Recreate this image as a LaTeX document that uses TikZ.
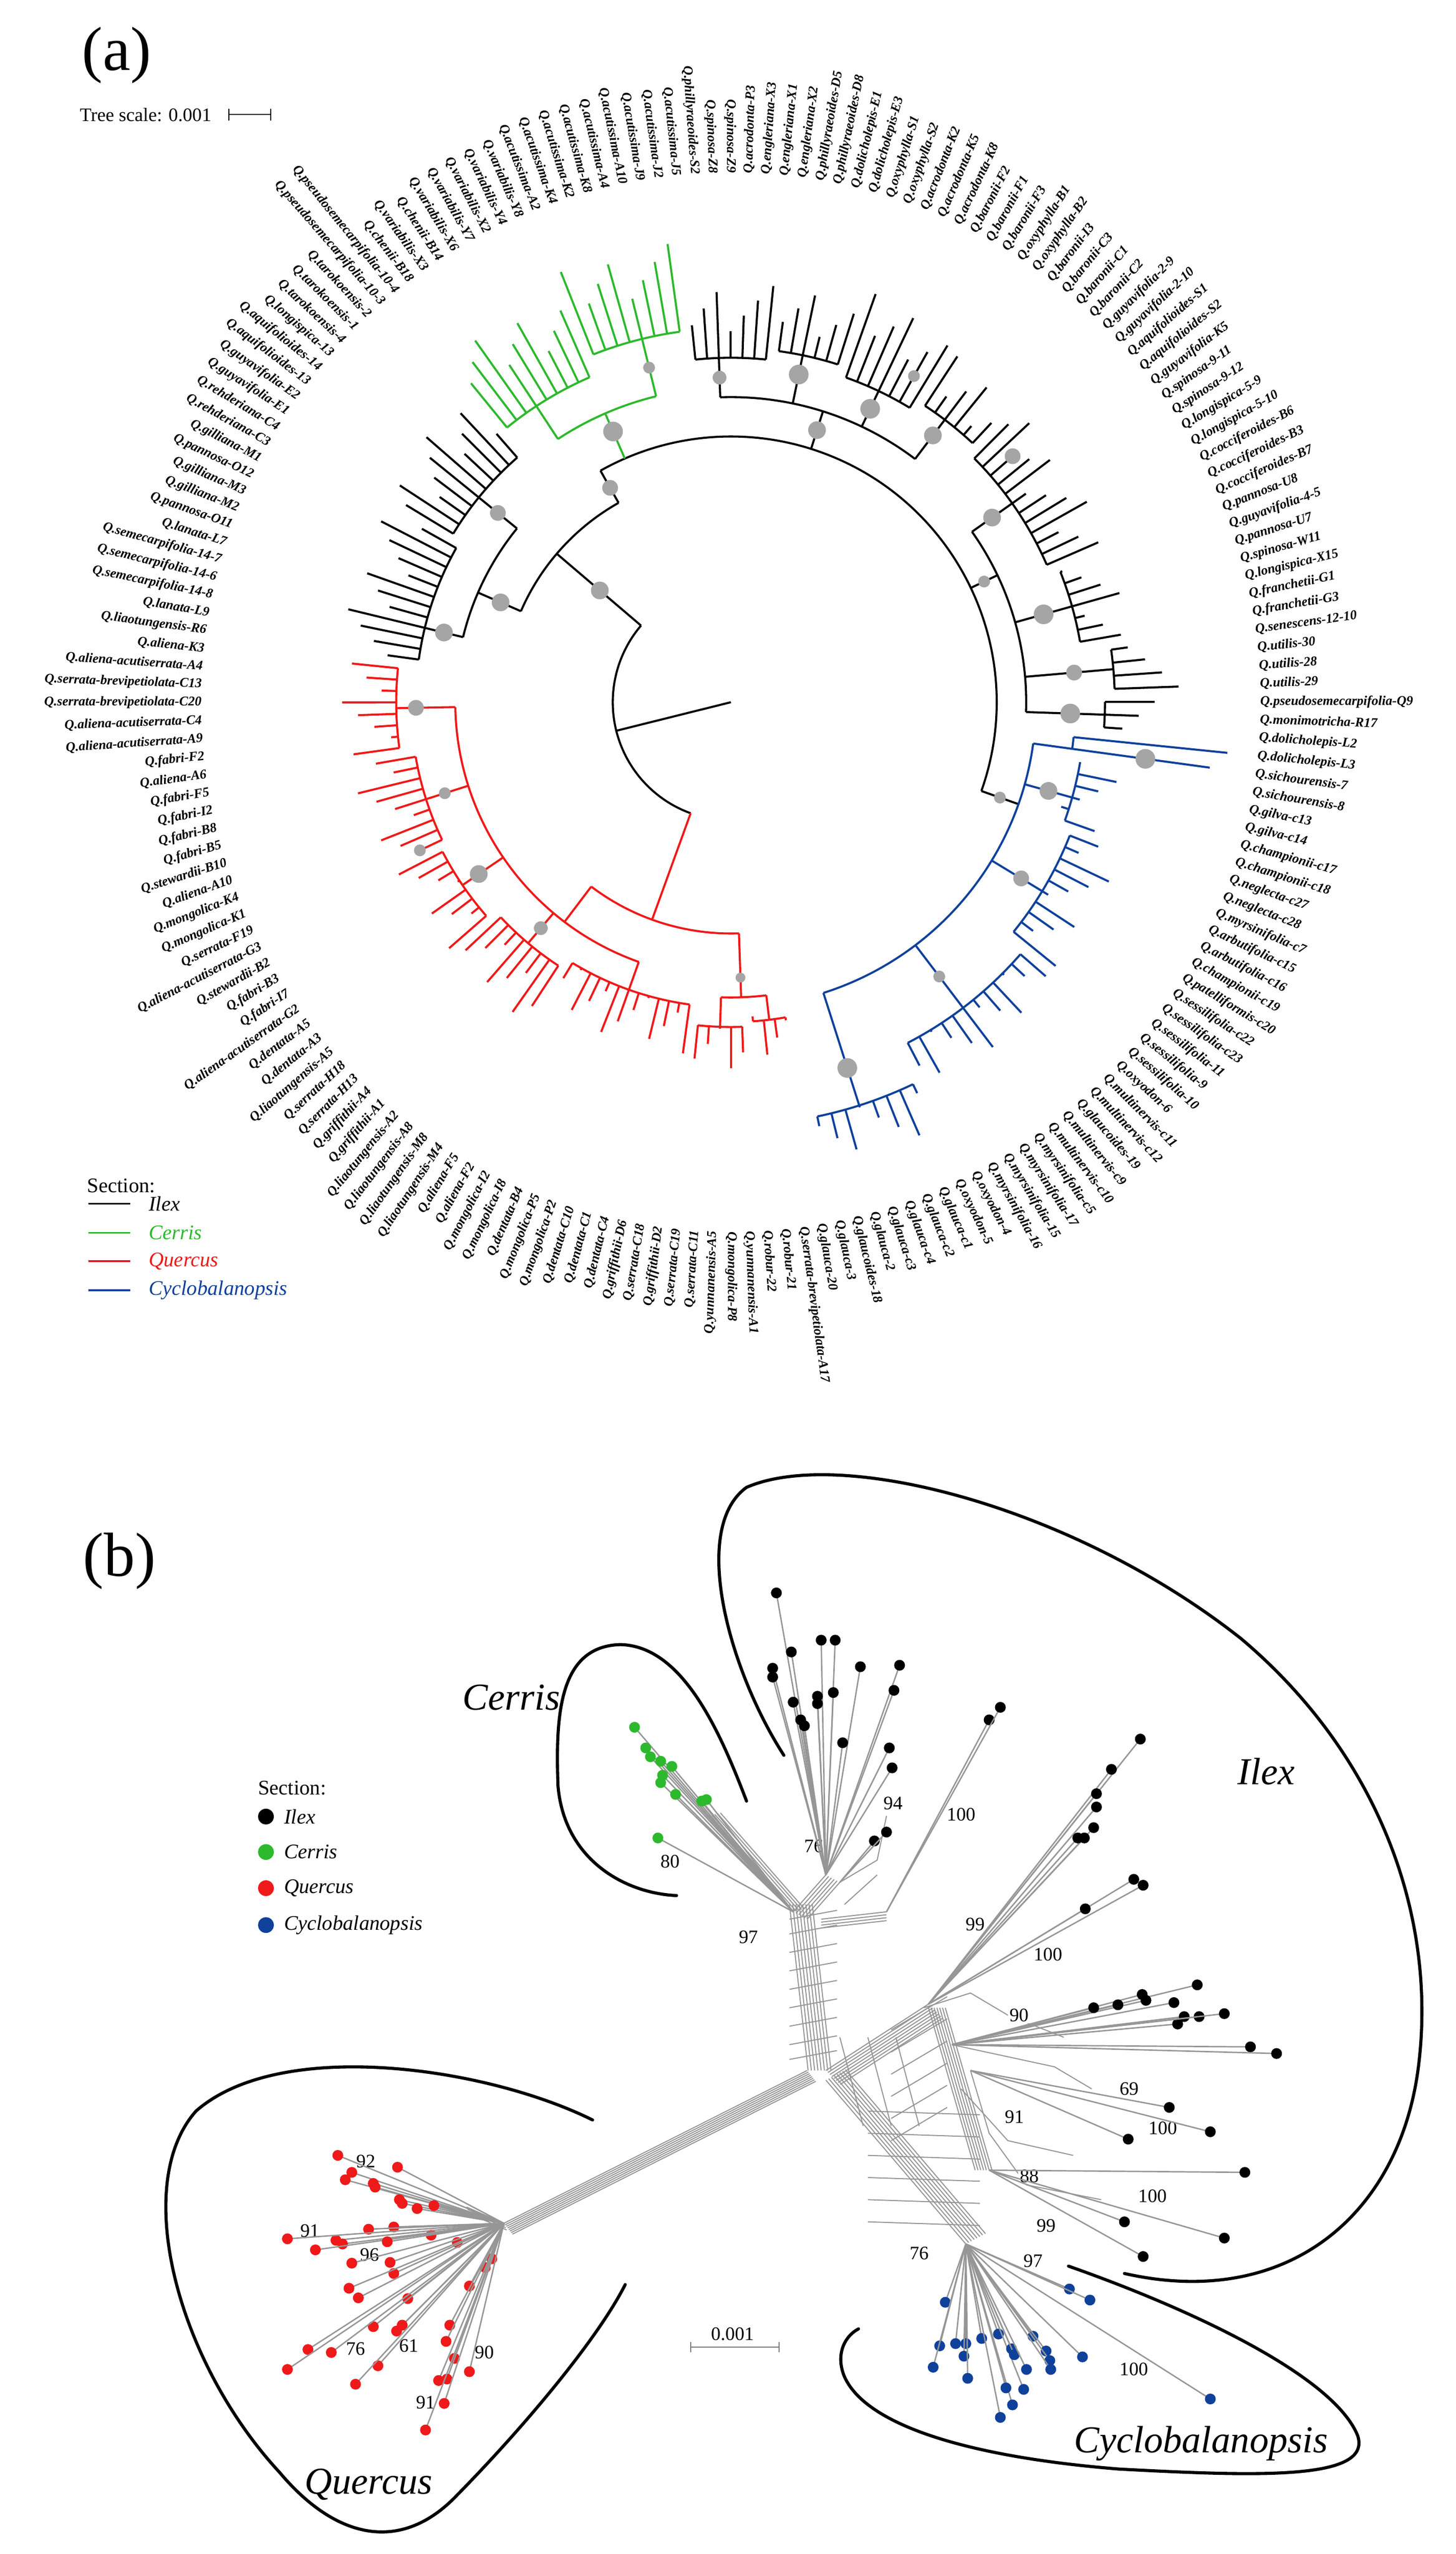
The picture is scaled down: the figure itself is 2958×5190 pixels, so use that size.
\documentclass[tikz,border=0pt]{standalone}
\usepackage{fontspec}
\setmainfont{Liberation Serif}
\definecolor{cg}{RGB}{45,185,45}
\definecolor{cr}{RGB}{240,25,25}
\definecolor{cb}{RGB}{15,65,155}
\definecolor{gd}{RGB}{165,165,165}
\definecolor{nt}{RGB}{150,150,150}
\newcommand\ag[1]{2+(#1)*1.9565}
\newcommand\lnk[4]{\draw[#1,tl] ({\ag{#2}}:#3) -- ({\ag{#2}}:#4);}
\newcommand\arcr[4]{\draw[#1,tl] ({\ag{#2}}:#4) arc[start angle={\ag{#2}}, end angle={\ag{#3}}, radius={#4*0.1mm}];}
\newcommand\clade[5]{\arcr{#1}{#2}{#3}{#4}%
  \foreach \k in {#2,...,#3}{\pgfmathsetmacro\tr{#5-mod(abs(\k)*37,7)*16}%
  \draw[#1,tl] ({\ag{\k}}:#4) -- ({\ag{\k}}:\tr);}}
\newcommand\gdot[3]{\fill[gd] ({\ag{#1}}:#2) circle[radius={#3*0.1mm}];}
\newcommand\grp[3]{\foreach \p in {#3}{\draw[tipl] #2 -- \p; \node[tipd,fill=#1] at \p {};}}
\newcommand\bundle[4]{\foreach \j in {0,...,#3}{\draw[netl,shift={($\j*#4$)}] #1 -- #2;}}
\usetikzlibrary{calc}
\begin{document}
\begin{tikzpicture}[x=0.1mm,y=0.1mm,
  tl/.style={line width=1.2pt},
  lab/.style={font=\fontsize{7.7}{8}\selectfont\bfseries\itshape, inner sep=0pt},
  netl/.style={draw=nt,line width=0.6pt},
  tipl/.style={draw=nt,line width=0.8pt},
  tipd/.style={circle,inner sep=0pt,minimum size=2.2mm,draw=none},
  outl/.style={line width=1.8pt,line cap=round},
  sup/.style={font=\fontsize{11}{12}\selectfont,inner sep=1pt},
  big/.style={font=\fontsize{36}{40}\selectfont},
  sec/.style={font=\fontsize{22}{26}\selectfont\itshape}]
\useasboundingbox (0,0) rectangle (2958,5190);
% ---------------- panel (a)
\node[big] (la) at (237,5078) {(a)};
\node[anchor=west,font=\fontsize{11}{12}\selectfont] (ts) at (150,4957) {Tree scale: 0.001};
\coordinate (sb1) at (465,4957); \coordinate (sb2) at (550,4957);
\draw[line width=0.6pt] (sb1) -- (sb2); \draw[line width=0.6pt] (465,4945)--(465,4969) (550,4945)--(550,4969);
\node[anchor=west,font=\fontsize{12}{13}\selectfont] (secA) at (165,2780) {Section:};
\draw[line width=1pt,black] (180,2744)--(265,2744); \node[anchor=west,font=\fontsize{12}{13}\selectfont\itshape] at (290,2744) {Ilex};
\draw[line width=1pt,cg] (180,2685)--(265,2685); \node[anchor=west,text=cg,font=\fontsize{12}{13}\selectfont\itshape] at (290,2685) {Cerris};
\draw[line width=1pt,cr] (180,2627)--(265,2627); \node[anchor=west,text=cr,font=\fontsize{12}{13}\selectfont\itshape] at (290,2627) {Quercus};
\draw[line width=1pt,cb] (180,2568)--(265,2568); \node[anchor=west,text=cb,font=\fontsize{12}{13}\selectfont\itshape] at (290,2568) {Cyclobalanopsis};
\begin{scope}[shift={(1485,3763)}]
% root
\draw[tl] (0,0) -- (194:240);
\arcr{black}{70.3}{126.8}{240}
% Quercus
\lnk{cr}{126.8}{240}{470}
\arcr{cr}{118}{138}{470}
\lnk{cr}{118}{470}{560}
\arcr{cr}{91.5}{127}{560}
\lnk{cr}{91.5}{560}{680}\clade{cr}{88}{95}{680}{790}
\lnk{cr}{100}{560}{650}\clade{cr}{96}{104}{650}{780}
\lnk{cr}{108.5}{560}{660}\clade{cr}{105}{112}{660}{760}
\lnk{cr}{116.5}{560}{640}\clade{cr}{113}{120}{640}{770}
\lnk{cr}{127}{560}{620}\clade{cr}{121}{133}{620}{720}
\lnk{cr}{138}{470}{600}\arcr{cr}{136}{140.5}{600}
\lnk{cr}{136}{600}{660}\clade{cr}{134}{138}{660}{760}
\lnk{cr}{140.5}{600}{650}\clade{cr}{139}{142}{650}{720}
\gdot{91.5}{640}{16}\gdot{100}{610}{12}\gdot{108.5}{620}{18}\gdot{116.5}{600}{14}\gdot{138}{560}{10}\gdot{104}{700}{12}
% Ilex + Cerris
\lnk{black}{70.3}{240}{465}
\arcr{black}{60}{79}{465}
\lnk{black}{79}{465}{560}\arcr{black}{71}{84}{560}
\lnk{black}{71}{560}{660}\clade{black}{66}{75}{660}{820}
\lnk{black}{84}{560}{640}\clade{black}{76}{87}{640}{800}
\lnk{black}{60}{465}{540}
\arcr{black}{-11}{60}{540}
\lnk{cg}{57}{540}{640}\arcr{cg}{52}{62}{640}
\lnk{cg}{52}{640}{760}\clade{cg}{49}{56}{760}{940}
\lnk{cg}{62}{640}{720}\clade{cg}{57}{65}{720}{900}
\lnk{black}{36}{540}{620}\arcr{black}{26}{46}{620}
\lnk{black}{46}{620}{700}\clade{black}{42}{48}{700}{850}
\lnk{black}{39}{620}{720}\clade{black}{36}{41}{720}{860}
\lnk{black}{32}{620}{700}\clade{black}{29}{35}{700}{880}
\lnk{black}{26}{620}{720}\clade{black}{23}{28}{720}{840}
\lnk{black}{12}{540}{600}\arcr{black}{-2}{17}{600}
\lnk{black}{17}{600}{700}\clade{black}{11}{22}{700}{830}
\lnk{black}{7}{600}{720}\clade{black}{4}{10}{720}{820}
\lnk{black}{1.5}{600}{780}\clade{black}{0}{3}{780}{910}
\lnk{black}{-2}{600}{760}\clade{black}{-3}{-1}{760}{893}
\lnk{black}{-11}{540}{620}
\arcr{cb}{-38}{-5}{620}
\lnk{cb}{-38}{620}{860}\clade{cb}{-41}{-34}{860}{960}
\lnk{cb}{-28}{620}{780}\clade{cb}{-33}{-22}{780}{880}
\lnk{cb}{-17}{620}{740}\clade{cb}{-21}{-12}{740}{850}
\lnk{cb}{-9}{620}{720}\clade{cb}{-11}{-6}{720}{800}
\lnk{cb}{-5}{620}{700}\clade{cb}{-5}{-4}{700}{1030}
\gdot{70.3}{350}{18}\gdot{79}{510}{18}\gdot{60}{500}{16}\gdot{57}{600}{20}\gdot{52}{700}{12}
\gdot{71}{610}{16}\gdot{84}{600}{18}\gdot{36}{580}{18}\gdot{46}{660}{14}\gdot{39}{680}{20}
\gdot{32}{660}{20}\gdot{26}{680}{18}\gdot{12}{570}{12}\gdot{17}{650}{18}\gdot{7}{660}{20}
\gdot{1.5}{700}{16}\gdot{-2}{690}{20}\gdot{-11}{580}{12}\gdot{-38}{780}{20}\gdot{-28}{700}{12}
\gdot{-17}{690}{16}\gdot{-9}{670}{18}\gdot{-5}{850}{20}\gdot{30}{760}{12}\gdot{20}{760}{16}
% labels
\foreach \lbl [count=\c from 0] in {Q.pseudosemecarpifolia-Q9,Q.utilis-29,Q.utilis-28,Q.utilis-30,Q.senescens-12-10,Q.franchetii-G3,Q.franchetii-G1,Q.longispica-X15,Q.spinosa-W11,Q.pannosa-U7,Q.guyavifolia-4-5,Q.pannosa-U8,Q.cocciferoides-B7,Q.cocciferoides-B3,Q.cocciferoides-B6,Q.longispica-5-10,Q.longispica-5-9,Q.spinosa-9-12,Q.spinosa-9-11,Q.guyavifolia-K5,Q.aquifolioides-S2,Q.aquifolioides-S1,Q.guyavifolia-2-10,Q.guyavifolia-2-9,Q.baronii-C2,Q.baronii-C1,Q.baronii-C3,Q.baronii-I3,Q.oxyphylla-B2,Q.oxyphylla-B1,Q.baronii-F3,Q.baronii-F1,Q.baronii-F2,Q.acrodonta-K8,Q.acrodonta-K5,Q.acrodonta-K2,Q.oxyphylla-S2,Q.oxyphylla-S1,Q.dolicholepis-E3,Q.dolicholepis-E1,Q.phillyraeoides-D8,Q.phillyraeoides-D5,Q.engleriana-X2,Q.engleriana-X1,Q.engleriana-X3,Q.acrodonta-P3,Q.spinosa-Z9,Q.spinosa-Z8,Q.phillyraeoides-S2,Q.acutissima-J5,Q.acutissima-J2,Q.acutissima-J9,Q.acutissima-A10,Q.acutissima-A4,Q.acutissima-K8,Q.acutissima-K2,Q.acutissima-K4,Q.acutissima-A2,Q.variabilis-Y8,Q.variabilis-Y4,Q.variabilis-X2,Q.variabilis-Y7,Q.variabilis-X6,Q.chenii-B14,Q.variabilis-X3,Q.chenii-B18,Q.pseudosemecarpifolia-10-4,Q.pseudosemecarpifolia-10-3,Q.tarokoensis-2,Q.tarokoensis-1,Q.tarokoensis-4,Q.longispica-13,Q.aquifolioides-14,Q.aquifolioides-13,Q.guyavifolia-E2,Q.guyavifolia-E1,Q.rehderiana-C4,Q.rehderiana-C3,Q.gilliana-M1,Q.pannosa-O12,Q.gilliana-M3,Q.gilliana-M2,Q.pannosa-O11,Q.lanata-L7,Q.semecarpifolia-14-7,Q.semecarpifolia-14-6,Q.semecarpifolia-14-8,Q.lanata-L9,Q.liaotungensis-R6,Q.aliena-K3,Q.aliena-acutiserrata-A4,Q.serrata-brevipetiolata-C13,Q.serrata-brevipetiolata-C20,Q.aliena-acutiserrata-C4,Q.aliena-acutiserrata-A9,Q.fabri-F2,Q.aliena-A6,Q.fabri-F5,Q.fabri-I2,Q.fabri-B8,Q.fabri-B5,Q.stewardii-B10,Q.aliena-A10,Q.mongolica-K4,Q.mongolica-K1,Q.serrata-F19,Q.aliena-acutiserrata-G3,Q.stewardii-B2,Q.fabri-B3,Q.fabri-I7,Q.aliena-acutiserrata-G2,Q.dentata-A5,Q.dentata-A3,Q.liaotungensis-A5,Q.serrata-H18,Q.serrata-H13,Q.griffithii-A4,Q.griffithii-A1,Q.liaotungensis-A2,Q.liaotungensis-A8,Q.liaotungensis-M8,Q.liaotungensis-M4,Q.aliena-F5,Q.aliena-F2,Q.mongolica-I2,Q.mongolica-I8,Q.dentata-B4,Q.mongolica-P5,Q.mongolica-P2,Q.dentata-C10,Q.dentata-C1,Q.dentata-C4,Q.griffithii-D6,Q.serrata-C18,Q.griffithii-D2,Q.serrata-C19,Q.serrata-C11,Q.yunnanensis-A5,Q.mongolica-P8,Q.yunnanensis-A1,Q.robur-22,Q.robur-21,Q.serrata-brevipetiolata-A17,Q.glauca-20,Q.glauca-3,Q.glaucoides-18,Q.glauca-2,Q.glauca-c3,Q.glauca-c4,Q.glauca-c2,Q.glauca-c1,Q.oxyodon-5,Q.oxyodon-4,Q.myrsinifolia-16,Q.myrsinifolia-15,Q.myrsinifolia-17,Q.myrsinifolia-c5,Q.multinervis-c10,Q.multinervis-c9,Q.glaucoides-19,Q.multinervis-c12,Q.multinervis-c11,Q.oxyodon-6,Q.sessilifolia-10,Q.sessilifolia-9,Q.sessilifolia-11,Q.sessilifolia-c23,Q.sessilifolia-c22,Q.patelliformis-c20,Q.championii-c19,Q.arbutifolia-c16,Q.arbutifolia-c15,Q.myrsinifolia-c7,Q.neglecta-c28,Q.neglecta-c27,Q.championii-c18,Q.championii-c17,Q.gilva-c14,Q.gilva-c13,Q.sichourensis-8,Q.sichourensis-7,Q.dolicholepis-L3,Q.dolicholepis-L2,Q.monimotricha-R17}{%
  \pgfmathsetmacro\aa{2+(\c-1)*1.9565}%
  \pgfmathtruncatemacro\flip{(\aa>90 && \aa<270)?1:0}%
  \ifnum\flip=1
    \node[lab,anchor=east,rotate=\aa+180] at (\aa:1075) {\lbl};
  \else
    \node[lab,anchor=west,rotate=\aa] at (\aa:1075) {\lbl};
  \fi}
\end{scope}
% ---------------- panel (b)
\begin{scope}[shift={(0,2340)},xscale=1.896,yscale=-1.5]
\node[big] (lb) at (128,215) {(b)};
\node[anchor=west,font=\fontsize{12}{13}\selectfont] (secB) at (270,522) {Section:};
\node[tipd,minimum size=3.2mm,fill=black] (d1) at (285,561) {}; \node[anchor=west,font=\fontsize{12}{13}\selectfont\itshape] at (298,561) {Ilex};
\node[tipd,minimum size=3.2mm,fill=cg] (d2) at (285,609) {}; \node[anchor=west,font=\fontsize{12}{13}\selectfont\itshape] at (298,609) {Cerris};
\node[tipd,minimum size=3.2mm,fill=cr] (d3) at (285,658) {}; \node[anchor=west,font=\fontsize{12}{13}\selectfont\itshape] at (298,658) {Quercus};
\node[tipd,minimum size=3.2mm,fill=cb] (d4) at (285,708) {}; \node[anchor=west,font=\fontsize{12}{13}\selectfont\itshape] at (298,708) {Cyclobalanopsis};
% outlines
\draw[outl] (800,540) .. controls (770,440) and (730,330) .. (665,328) .. controls (600,330) and (595,420) .. (598,520) .. controls (605,620) and (670,665) .. (725,668);
\draw[outl] (840,478) .. controls (780,360) and (740,170) .. (800,115) .. controls (900,60) and (1150,140) .. (1330,320) .. controls (1480,480) and (1540,700) .. (1520,900) .. controls (1500,1100) and (1380,1230) .. (1205,1180);
\draw[outl] (635,972) .. controls (520,900) and (300,860) .. (210,960) .. controls (140,1060) and (190,1300) .. (300,1450) .. controls (360,1540) and (430,1560) .. (490,1480) .. controls (560,1390) and (640,1270) .. (670,1195);
\draw[outl] (1145,1170) .. controls (1280,1230) and (1430,1320) .. (1455,1400) .. controls (1470,1460) and (1350,1455) .. (1200,1445) .. controls (1050,1430) and (930,1390) .. (905,1320) .. controls (895,1290) and (905,1265) .. (920,1255);
\node[sec] (tc) at (548,400) {Cerris};
\node[sec] (ti) at (1357,500) {Ilex};
\node[sec] (tq) at (395,1466) {Quercus};
\node[sec] (tcy) at (1287,1410) {Cyclobalanopsis};
% scale bar
\draw[line width=0.6pt,nt!80!black] (740,1280) -- (835,1280) (740,1273)--(740,1287) (835,1273)--(835,1287);
\node[sup] at (785,1262) {0.001};
% network core
\bundle{(540,1112)}{(865,905)}{7}{(1.3,2.1)}
\bundle{(846,680)}{(866,905)}{7}{(3.5,0)}
\bundle{(885,905)}{(995,815)}{7}{(2.2,2.7)}
\bundle{(885,918)}{(1035,1140)}{7}{(3,-2)}
\bundle{(995,820)}{(1045,1040)}{6}{(3,0)}
\bundle{(850,690)}{(885,640)}{5}{(3,2)}
\bundle{(880,700)}{(950,690)}{3}{(0,4)}
\bundle{(540,1112)}{(500,1090)}{3}{(1,3)}
\bundle{(760,560)}{(850,690)}{4}{(3,-1)}
\foreach \yy in {700,720,745,770,795,820,845,870,890}{\draw[netl] (846,\yy) -- (897,\yy-12);}
\foreach \yy in {850,880,910,940,970,1000}{\draw[netl] (955,\yy) -- (1015,\yy-45);}
\foreach \yy in {960,990,1020,1050,1080,1110}{\draw[netl] (930,\yy) -- (1050,\yy+5);}
\foreach \xx in {900,930,960}{\draw[netl] (\xx,860) -- (\xx+25,980);}
\draw[netl] (900,650)--(940,620)--(950,560) (905,680)--(940,640) (990,820)--(1040,800)--(1080,830)--(1140,860) (1020,870)--(1130,900)--(1170,930) (1040,905)--(1060,990)--(1100,1060)--(1180,1080) (1030,930)--(1080,1000)--(1150,1020);
% labels
\foreach \n/\x/\y in {80/718/622,97/802/724,76/872/601,94/957/543,100/1030/558,99/1045/707,100/1123/748,90/1092/830,69/1210/930,91/1087/968,100/1246/983,88/1103/1048,100/1235/1075,99/1121/1115,76/985/1153,97/1107/1163,100/1215/1310,92/392/1028,91/332/1122,96/396/1155,76/381/1282,61/438/1278,90/519/1287,91/456/1355}{\node[sup,fill=white] at (\x,\y) {\n};}
% tips
\grp{black}{(885,640)}{(832,258),(848,338),(880,322),(895,322),(828,360),(828,372),(922,358),(964,356),(893,393),(876,398),(876,408),(850,406),(958,390),(858,430),(862,438),(903,461),(953,468),(956,495)}
\grp{black}{(900,650)}{(937,594),(950,582)}
\grp{black}{(950,690)}{(1060,430),(1072,413)}
\grp{black}{(995,815)}{(1222,456),(1191,497),(1175,530),(1175,548),(1172,576),(1162,590),(1155,590),(1215,646),(1225,654),(1163,686)}
\grp{black}{(1020,870)}{(1283,789),(1224,802),(1228,810),(1198,816),(1172,820),(1258,813),(1269,832),(1262,842),(1285,832),(1312,828),(1340,873),(1368,882)}
\grp{black}{(1040,905)}{(1253,955),(1297,988),(1209,998)}
\grp{black}{(1060,1040)}{(1334,1043),(1205,1110),(1312,1132),(1225,1157)}
\grp{cg}{(850,690)}{(680,440),(692,468),(697,480),(708,486),(720,493),(710,505),(708,515),(724,531),(752,540),(757,538),(705,590)}
\grp{cr}{(540,1112)}{(362,1020),(377,1043),(370,1053),(400,1058),(402,1063),(426,1036),(428,1080),(431,1085),(447,1092),(465,1088),(462,1128),(422,1117),(395,1120),(360,1135),(367,1140),(338,1148),(308,1133),(415,1137),(490,1138),(377,1166),(418,1165),(422,1180),(527,1160),(520,1172),(503,1197),(374,1200),(384,1213),(437,1214),(400,1252),(425,1258),(431,1250),(482,1250),(478,1272),(487,1295),(503,1313),(330,1283),(355,1287),(308,1310),(405,1305),(381,1330),(470,1325),(479,1323),(476,1356),(456,1392)}
\grp{cb}{(1035,1140)}{(1013,1219),(1007,1278),(1000,1307),(1024,1275),(1035,1275),(1052,1268),(1033,1292),(1037,1322),(1070,1262),(1072,1375),(1085,1358),(1078,1335),(1097,1337),(1084,1282),(1087,1290),(1100,1310),(1107,1265),(1121,1285),(1125,1298),(1126,1310),(1160,1293),(1146,1201),(1168,1216),(1297,1350)}
\end{scope}
\end{tikzpicture}
\end{document}
